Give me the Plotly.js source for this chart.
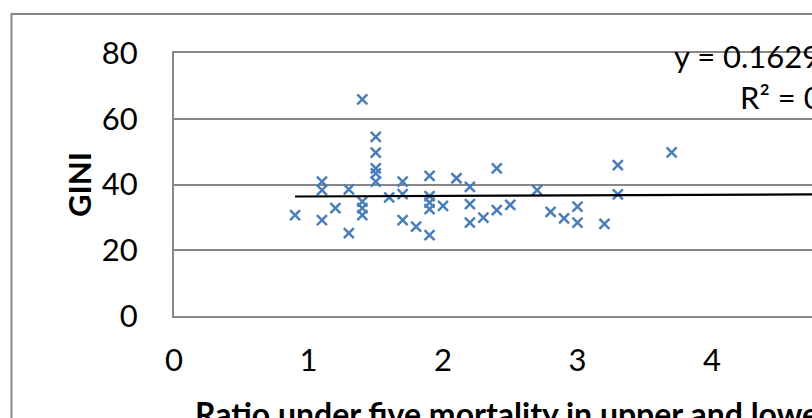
<!DOCTYPE html>
<html>
<head>
<meta charset="utf-8">
<script src="https://cdn.plot.ly/plotly-3.0.1.min.js"></script>
<style>
  html, body { margin: 0; padding: 0; overflow: hidden; background: #fff; }
  #chart { width: 1100px; height: 500px; }
</style>
</head>
<body>
<div id="chart"></div>
<script>
// Data
var ratioU5 = [0.90, 1.10, 1.10, 1.10, 1.20, 1.30, 1.30, 1.40, 1.40, 1.40, 1.40,
               1.50, 1.50, 1.50, 1.50, 1.50, 1.60, 1.70, 1.70, 1.70, 1.80,
               1.90, 1.90, 1.90, 1.90, 1.90, 2.00, 2.10, 2.20, 2.20, 2.20,
               2.30, 2.40, 2.40, 2.50, 2.70, 2.80, 2.90, 3.00, 3.00, 3.20,
               3.30, 3.30, 3.70];
var gini = [30.7, 40.9, 38.3, 29.2, 32.8, 38.5, 25.2, 34.8, 32.8, 30.7, 65.9,
            54.5, 49.7, 44.9, 43.4, 40.9, 36.1, 40.9, 37.1, 29.2, 27.2,
            42.6, 36.5, 34.5, 32.5, 24.6, 33.5, 41.9, 39.3, 34.0, 28.4,
            29.9, 32.2, 44.9, 33.8, 38.3, 31.7, 29.7, 33.3, 28.4, 28.0,
            45.9, 37.0, 49.8];
var xTicks = [0, 1, 2, 3, 4, 5, 6];
var yTicks = [0, 20, 40, 60, 80];
// Linear trendline as printed on the chart
var trendSlope = 0.1629;
var trendIntercept = 36.2;
var xMax = 6;

var xMin = Math.min.apply(null, ratioU5);
var trendX = [xMin, xMax];
var trendY = trendX.map(function (v) { return trendSlope * v + trendIntercept; });

var font = 'Lato, "Open Sans", sans-serif';

var traces = [
  {
    x: ratioU5, y: gini, type: 'scatter', mode: 'markers', name: 'GINI',
    marker: { symbol: 'x-thin-open', size: 10, color: '#4A7EBB',
              line: { color: '#4A7EBB', width: 2.5 } },
    hoverinfo: 'x+y'
  },
  {
    x: trendX, y: trendY, type: 'scatter', mode: 'lines', name: 'Linear',
    line: { color: '#000000', width: 2.2 }, hoverinfo: 'skip'
  }
];

var layout = {
  width: 1100, height: 500,
  margin: { l: 174, r: 119, t: 53, b: 184 },
  paper_bgcolor: '#ffffff', plot_bgcolor: '#ffffff',
  showlegend: false,
  font: { family: font, color: '#000000', size: 31 },
  xaxis: {
    range: [0, xMax], tickvals: xTicks, ticktext: xTicks.map(String),
    showgrid: false, zeroline: false,
    showline: true, linecolor: '#878787', linewidth: 2, mirror: true,
    ticks: 'outside', ticklen: 16, tickcolor: 'rgba(0,0,0,0)',
    tickfont: { family: font, size: 31, color: '#000' },
    title: { text: '<b>Ratio under five mortality in upper and lower quintiles</b>',
             font: { family: font, size: 32, color: '#000' }, standoff: 26 },
    automargin: false, fixedrange: true
  },
  yaxis: {
    range: [0, 80], tickvals: yTicks, ticktext: yTicks.map(String),
    showgrid: true, gridcolor: '#878787', gridwidth: 2, zeroline: false,
    showline: true, linecolor: '#878787', linewidth: 2, mirror: true,
    ticks: 'outside', ticklen: 28, tickcolor: 'rgba(0,0,0,0)',
    tickfont: { family: font, size: 31, color: '#000' },
    title: { text: '<b>GINI</b>', font: { family: font, size: 31, color: '#000' }, standoff: 1 },
    automargin: false, fixedrange: true
  },
  shapes: [
    { type: 'rect', xref: 'paper', yref: 'paper',
      x0: (11.5 - 174) / 807, x1: 1.1, y0: -0.6, y1: (316 - 14) / 263,
      line: { color: '#878787', width: 2 }, fillcolor: 'rgba(0,0,0,0)', layer: 'below' }
  ],
  annotations: [
    { xref: 'paper', yref: 'paper', x: (672 - 174) / 807, y: (316 - 56) / 263,
      xanchor: 'left', yanchor: 'middle', showarrow: false,
      text: 'y = 0.1629x + 36.2', font: { family: font, size: 31, color: '#000' } },
    { xref: 'paper', yref: 'paper', x: (738 - 174) / 807, y: (316 - 97) / 263,
      xanchor: 'left', yanchor: 'middle', showarrow: false,
      text: 'R² = 0.0013', font: { family: font, size: 31, color: '#000' } }
  ]
};

Plotly.newPlot('chart', traces, layout, { displayModeBar: false, staticPlot: true });
</script>
</body>
</html>
